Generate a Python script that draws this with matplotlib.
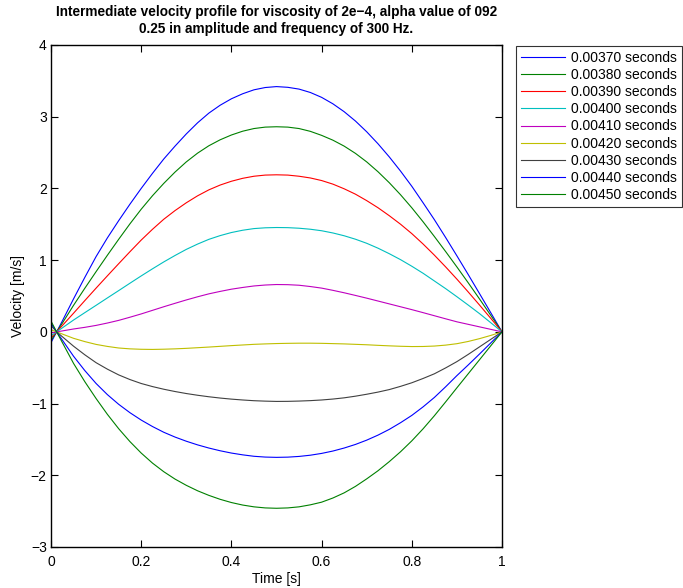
import matplotlib
matplotlib.use("Agg")
import matplotlib.pyplot as plt

plt.rcParams["font.family"] = ["Liberation Sans", "DejaVu Sans"]

# Sample positions along the profile (first point is the wall node)
x = [0.0, 0.0125, 0.025, 0.05, 0.075, 0.10, 0.125, 0.15, 0.175, 0.20, 0.225,
     0.25, 0.275, 0.30, 0.325, 0.35, 0.375, 0.40, 0.425, 0.45, 0.475, 0.50,
     0.525, 0.55, 0.575, 0.60, 0.625, 0.65, 0.675, 0.70, 0.725, 0.75, 0.775,
     0.80, 0.825, 0.85, 0.875, 0.90, 0.925, 0.95, 0.975, 1.0]

times = ["0.00370", "0.00380", "0.00390", "0.00400", "0.00410",
         "0.00420", "0.00430", "0.00440", "0.00450"]

v_00370 = [-0.15, 0.0, 0.15, 0.46, 0.76, 1.05, 1.31, 1.55, 1.78, 2.00, 2.21,
           2.41, 2.59, 2.76, 2.915, 3.05, 3.16, 3.25, 3.32, 3.375, 3.407, 3.42,
           3.41, 3.385, 3.338, 3.27, 3.18, 3.07, 2.94, 2.79, 2.623, 2.44, 2.242,
           2.03, 1.80, 1.565, 1.316, 1.06, 0.80, 0.535, 0.268, 0.0]
v_00380 = [-0.12, 0.0, 0.12, 0.37, 0.608, 0.84, 1.068, 1.29, 1.506, 1.71, 1.898,
           2.07, 2.228, 2.37, 2.492, 2.595, 2.678, 2.745, 2.798, 2.835, 2.855, 2.86,
           2.855, 2.835, 2.796, 2.74, 2.673, 2.59, 2.489, 2.37, 2.233, 2.08, 1.912,
           1.73, 1.535, 1.33, 1.12, 0.905, 0.685, 0.46, 0.231, 0.0]
v_00390 = [-0.085, 0.0, 0.087, 0.26, 0.436, 0.61, 0.781, 0.95, 1.117, 1.28, 1.43,
           1.57, 1.691, 1.80, 1.897, 1.98, 2.047, 2.10, 2.141, 2.17, 2.186, 2.19,
           2.186, 2.17, 2.146, 2.11, 2.06, 1.995, 1.92, 1.83, 1.731, 1.62, 1.501,
           1.37, 1.225, 1.07, 0.906, 0.735, 0.557, 0.375, 0.189, 0.0]
v_00400 = [-0.055, 0.0, 0.055, 0.165, 0.268, 0.37, 0.473, 0.575, 0.678, 0.78, 0.879,
           0.975, 1.065, 1.15, 1.224, 1.29, 1.342, 1.385, 1.417, 1.44, 1.451, 1.455,
           1.453, 1.445, 1.431, 1.41, 1.379, 1.34, 1.292, 1.235, 1.167, 1.09, 1.007,
           0.915, 0.817, 0.71, 0.603, 0.49, 0.374, 0.255, 0.128, 0.0]
v_00410 = [-0.015, 0.0, 0.013, 0.04, 0.063, 0.09, 0.123, 0.16, 0.204, 0.25, 0.30,
           0.35, 0.398, 0.445, 0.489, 0.53, 0.564, 0.595, 0.619, 0.64, 0.653, 0.66,
           0.658, 0.65, 0.632, 0.61, 0.579, 0.545, 0.508, 0.47, 0.43, 0.39, 0.35,
           0.31, 0.268, 0.225, 0.182, 0.14, 0.105, 0.07, 0.035, 0.0]
v_00420 = [0.03, 0.0, -0.03, -0.09, -0.136, -0.175, -0.203, -0.225, -0.237, -0.243, -0.245,
           -0.242, -0.237, -0.23, -0.221, -0.212, -0.202, -0.192, -0.183, -0.174, -0.168, -0.163,
           -0.16, -0.158, -0.158, -0.16, -0.164, -0.168, -0.174, -0.18, -0.188, -0.195, -0.201,
           -0.205, -0.204, -0.198, -0.185, -0.165, -0.134, -0.095, -0.05, 0.0]
v_00430 = [0.09, 0.0, -0.067, -0.20, -0.32, -0.43, -0.52, -0.60, -0.665, -0.72, -0.763,
           -0.80, -0.832, -0.86, -0.884, -0.905, -0.923, -0.938, -0.95, -0.96, -0.966, -0.97,
           -0.969, -0.965, -0.959, -0.95, -0.937, -0.92, -0.897, -0.87, -0.84, -0.805, -0.76,
           -0.71, -0.65, -0.585, -0.503, -0.415, -0.315, -0.21, -0.105, 0.0]
v_00440 = [0.12, 0.0, -0.113, -0.34, -0.54, -0.72, -0.875, -1.01, -1.127, -1.23, -1.32,
           -1.40, -1.467, -1.525, -1.576, -1.62, -1.658, -1.69, -1.715, -1.735, -1.746, -1.75,
           -1.747, -1.737, -1.72, -1.695, -1.662, -1.62, -1.57, -1.51, -1.44, -1.36, -1.267,
           -1.165, -1.046, -0.915, -0.766, -0.61, -0.462, -0.31, -0.155, 0.0]
v_00450 = [0.15, 0.0, -0.147, -0.44, -0.695, -0.93, -1.15, -1.35, -1.53, -1.69, -1.83,
           -1.95, -2.053, -2.14, -2.216, -2.28, -2.335, -2.38, -2.415, -2.44, -2.455, -2.46,
           -2.455, -2.44, -2.412, -2.375, -2.317, -2.245, -2.155, -2.05, -1.937, -1.81, -1.672,
           -1.52, -1.352, -1.17, -0.977, -0.78, -0.585, -0.39, -0.195, 0.0]

series = [v_00370, v_00380, v_00390, v_00400, v_00410,
          v_00420, v_00430, v_00440, v_00450]

colors = [(0, 0, 1), (0, 0.5, 0), (1, 0, 0), (0, 0.75, 0.75), (0.75, 0, 0.75),
          (0.75, 0.75, 0), (0.25, 0.25, 0.25), (0, 0, 1), (0, 0.5, 0)]

x_ticks = [0, 0.2, 0.4, 0.6, 0.8, 1]
x_tick_labels = ["0", "0.2", "0.4", "0.6", "0.8", "1"]
y_ticks = [-3, -2, -1, 0, 1, 2, 3, 4]
y_tick_labels = ["\u22123", "\u22122", "\u22121", "0", "1", "2", "3", "4"]

W, H = 683, 588
fig = plt.figure(figsize=(W / 100, H / 100), dpi=100)
ax = fig.add_axes([51 / W, 1 - 547 / H, (502 - 51) / W, (547 - 45) / H])

for vals, c, t in zip(series, colors, times):
    ax.plot(x, vals, color=c, lw=0.8, label=f"{t} seconds")

ax.set_xlim(0, 1)
ax.set_ylim(-3, 4)
ax.set_xticks(x_ticks)
ax.set_xticklabels(x_tick_labels)
ax.set_yticks(y_ticks)
ax.set_yticklabels(y_tick_labels)
ax.tick_params(direction="in", length=5, width=0.8, top=True, right=True,
               labelsize=10)
ax.tick_params(axis="x", pad=6)
ax.tick_params(axis="y", pad=3)
for s in ax.spines.values():
    s.set_linewidth(1.0)
    s.set_color("black")

ax.set_xlabel("Time [s]", fontsize=10, labelpad=2)
ax.set_ylabel("Velocity [m/s]", fontsize=10, labelpad=4)
ax.set_title("Intermediate velocity profile for viscosity of 2e\u22124, alpha value of 092\n"
             "0.25 in amplitude and frequency of 300 Hz.",
             fontsize=9.8, fontweight="bold", pad=9, linespacing=1.2)

leg = fig.legend(loc="upper left", bbox_to_anchor=(516 / W, 1 - 46 / H),
                 borderaxespad=0, fontsize=10, frameon=True, fancybox=False,
                 handlelength=3.2, handletextpad=0.45, labelspacing=0.23,
                 borderpad=0.33)
leg.get_frame().set_edgecolor("black")
leg.get_frame().set_linewidth(0.8)

fig.savefig("out.png", dpi=100)
